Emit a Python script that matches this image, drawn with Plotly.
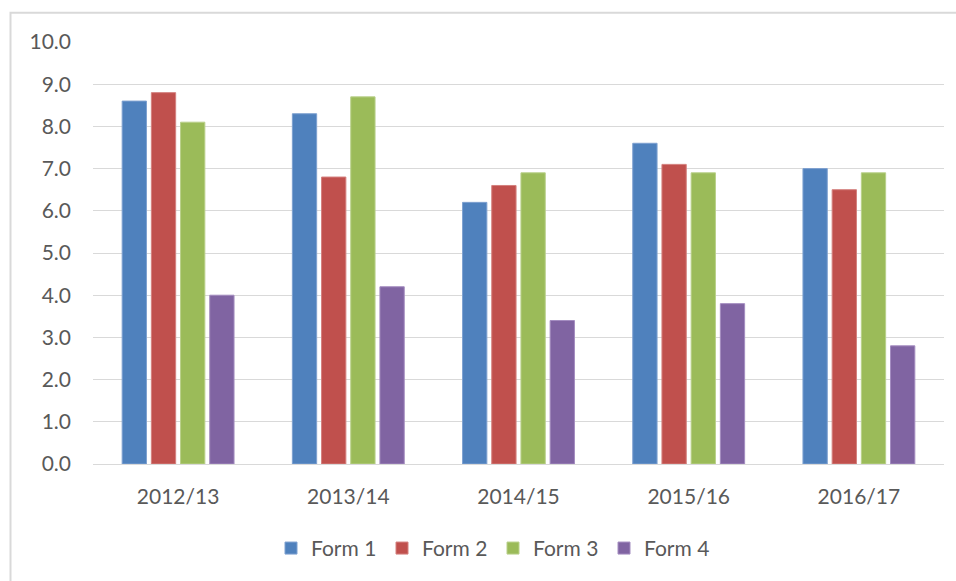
import plotly.graph_objects as go

# Academic years on the category axis
years = ["2012/13", "2013/14", "2014/15", "2015/16", "2016/17"]

# Average values per form group
form_1 = [8.6, 8.3, 6.2, 7.6, 7.0]
form_2 = [8.8, 6.8, 6.6, 7.1, 6.5]
form_3 = [8.1, 8.7, 6.9, 6.9, 6.9]
form_4 = [4.0, 4.2, 3.4, 3.8, 2.8]

series_names = ["Form 1", "Form 2", "Form 3", "Form 4"]
series_values = [form_1, form_2, form_3, form_4]
series_colors = ["#4F81BD", "#C0504D", "#9BBB59", "#8064A2"]
edge_colors = ["#7EA1D0", "#D4807E", "#B9D08A", "#A48DC0"]

y_ticks = [i for i in range(0, 11)]
y_tick_text = [f"{v:.1f}" for v in y_ticks]

FONT = "Lato, 'Open Sans', sans-serif"
TEXT_GREY = "#595959"
GRID_GREY = "#D9D9D9"

fig = go.Figure()
for name, vals, col, edge in zip(series_names, series_values, series_colors, edge_colors):
    fig.add_trace(go.Bar(
        x=years, y=vals, name=name,
        marker=dict(color=col, line=dict(color=edge, width=1)),
    ))

W, H = 956, 581
ml, mr, mt, mb = 93, 12, 42, 114
pw, ph = W - ml - mr, H - mt - mb

def px_to_paper_x(px):
    return (px - ml) / pw

def px_to_paper_y(py):
    return (H - mb - py) / ph

fig.update_layout(
    width=W, height=H,
    margin=dict(l=ml, r=mr, t=mt, b=mb, pad=0),
    paper_bgcolor="white", plot_bgcolor="white",
    font=dict(family=FONT, size=21, color=TEXT_GREY),
    barmode="group", bargap=0.314, bargroupgap=0.167,
    showlegend=True,
    legend=dict(
        orientation="h",
        x=px_to_paper_x(493), xanchor="center",
        y=px_to_paper_y(552), yanchor="middle",
        entrywidth=66, entrywidthmode="pixels",
        font=dict(family=FONT, size=21, color=TEXT_GREY),
        itemclick=False, itemdoubleclick=False,
        traceorder="normal",
    ),
    xaxis=dict(
        showgrid=False, showline=True, linecolor=GRID_GREY, linewidth=1,
        ticks="", ticklabelstandoff=14,
        tickfont=dict(family=FONT, size=21, color=TEXT_GREY),
        fixedrange=True,
    ),
    yaxis=dict(
        range=[0, 10], tickmode="array", tickvals=y_ticks, ticktext=y_tick_text,
        showgrid=True, gridcolor=GRID_GREY, gridwidth=1,
        zeroline=False, showline=False, ticks="",
        ticklabelstandoff=21,
        tickfont=dict(family=FONT, size=21, color=TEXT_GREY),
        fixedrange=True,
    ),
    shapes=[dict(
        type="rect", xref="paper", yref="paper",
        x0=px_to_paper_x(10.5), x1=px_to_paper_x(1200),
        y0=px_to_paper_y(800), y1=px_to_paper_y(12.5),
        line=dict(color=GRID_GREY, width=2), fillcolor="rgba(0,0,0,0)",
        layer="below",
    )],
)

fig.write_html("out.html", config={"displayModeBar": False})
